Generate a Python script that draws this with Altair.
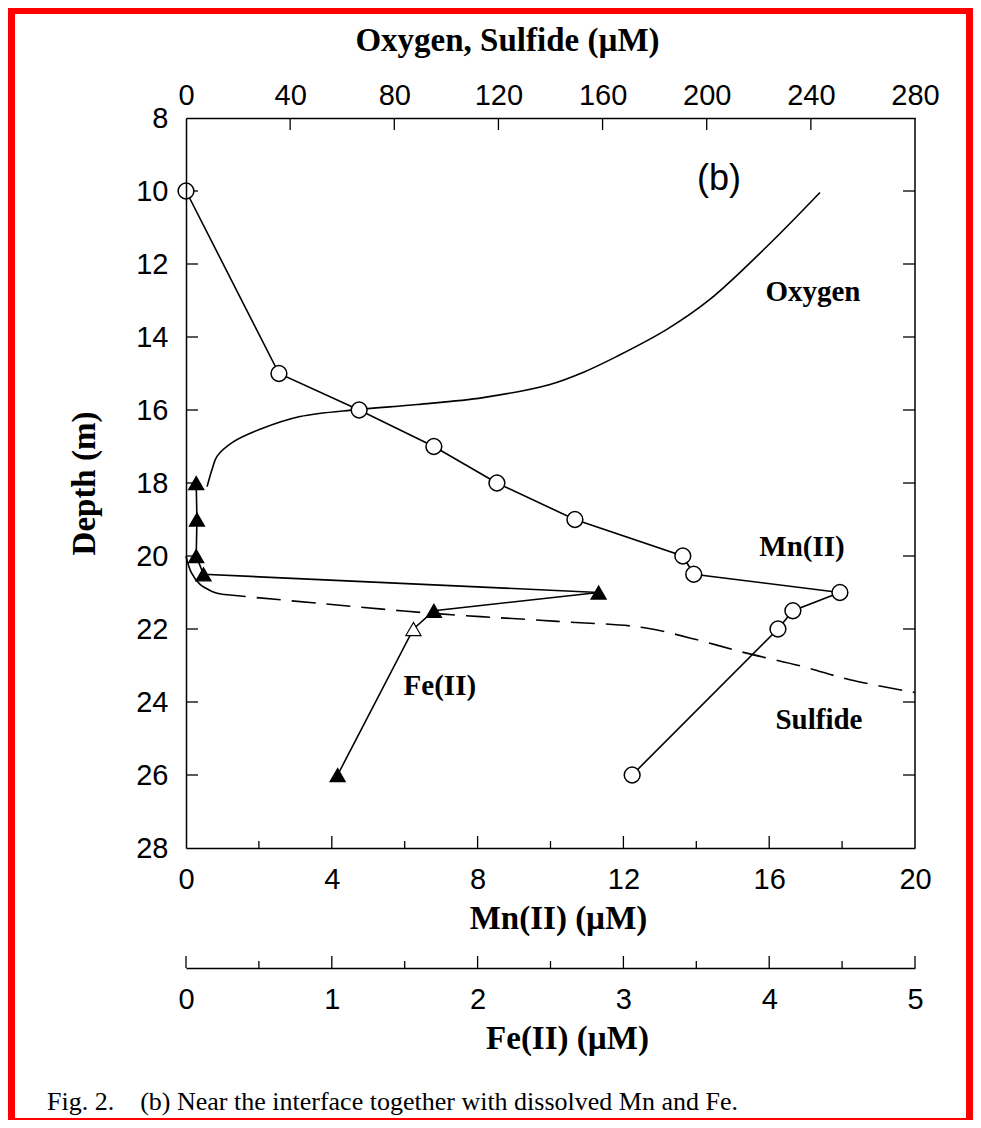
import altair as alt
import pandas as pd

# ---------------- data ----------------
mn_um = [0.0, 2.55, 4.75, 6.8, 8.53, 10.67, 13.63, 13.93, 17.94, 16.65, 16.24, 12.24]
mn_depth = [10, 15, 16, 17, 18, 19, 20, 20.5, 21, 21.5, 22, 26]

fe_um = [0.07, 0.075, 0.07, 0.12, 2.83, 1.70, 1.56, 1.04]
fe_depth = [18, 19, 20, 20.5, 21, 21.5, 22, 26]
fe_open = [False, False, False, False, False, False, True, False]

oxy_um = [243.5, 223.1, 201.2, 184.7, 165.5, 152.5, 139.8, 114.1, 88.7, 65.7,
          43.8, 28.4, 18.0, 11.9, 10.0, 8.1]
oxy_depth = [10.04, 11.52, 12.97, 13.79, 14.53, 14.97, 15.30, 15.66, 15.85, 15.99,
             16.18, 16.53, 16.88, 17.27, 17.63, 18.10]

sulfide_um = [0.0, 2.0, 5.4, 10.0, 13.8, 51.5, 96.4, 142.5, 175.5, 196.0, 213.0,
              237.0, 255.0, 280.0]
sulfide_depth = [20.0, 20.45, 20.78, 20.97, 21.05, 21.30, 21.58, 21.79, 21.96,
                 22.29, 22.62, 23.03, 23.39, 23.74]
sulfide_solid_n = 5  # first points drawn solid

depth_ticks = [8, 10, 12, 14, 16, 18, 20, 22, 24, 26, 28]
oxy_ticks = [0, 40, 80, 120, 160, 200, 240, 280]
mn_ticks = [0, 4, 8, 12, 16, 20]
mn_minor = [2, 6, 10, 14, 18]
fe_ticks = [0, 1, 2, 3, 4, 5]
fe_minor = [0.5, 1.5, 2.5, 3.5, 4.5]

species_labels = ["Oxygen", "Mn(II)", "Fe(II)", "Sulfide"]
species_x = [240.8, 236.6, 97.5, 243.1]      # on the oxygen/sulfide scale
species_depth = [12.78, 19.74, 23.55, 24.48]
panel_label = ["(b)"]
panel_x = [204.7]
panel_depth = [9.68]

caption = "Fig. 2.\u00a0\u00a0\u00a0\u00a0(b) Near the interface together with dissolved Mn and Fe."

# ---------------- layout ----------------
W, H = 729, 730
FE_OFF = 120
SANS = "Liberation Sans, Arial, Helvetica, sans-serif"
NARROW = "Liberation Sans Narrow, Arial Narrow, Liberation Sans, sans-serif"
SERIF = "Liberation Serif, Times New Roman, serif"
LW = 1.6
LBL = 29
TTL = 33

yscale = alt.Scale(domain=[8, 28], reverse=True, nice=False, zero=False)
oxy_scale = alt.Scale(domain=[0, 280], nice=False, zero=False)
mn_scale = alt.Scale(domain=[0, 20], nice=False, zero=False)
fe_scale = alt.Scale(domain=[0, 5], nice=False, zero=False)

y_axis = alt.Axis(orient="left", values=depth_ticks, ticks=False, domain=True,
                  title="Depth (m)", titleFont=SERIF, titleFontWeight="bold",
                  titleFontSize=TTL, titlePadding=34, labelFont=NARROW,
                  labelFontSize=LBL, labelPadding=18, labelFlush=False,
                  grid=False, zindex=1, format="d")
oxy_axis = alt.Axis(orient="top", values=oxy_ticks, ticks=False, domain=True,
                    title="Oxygen, Sulfide (\u00b5M)", titleFont=SERIF,
                    titleFontWeight="bold", titleFontSize=TTL, titlePadding=24,
                    titleX=321, titleAlign="center", labelFlush=False,
                    labelFont=NARROW, labelFontSize=LBL, labelPadding=8, grid=False,
                    zindex=1, format="d")
mn_axis = alt.Axis(orient="bottom", values=mn_ticks, ticks=False, domain=True,
                   title="Mn(II) (\u00b5M)", titleFont=SERIF, titleFontWeight="bold",
                   titleFontSize=TTL, titlePadding=8, titleX=372, titleAlign="center",
                   labelFlush=False, labelFont=NARROW, labelFontSize=LBL,
                   labelPadding=17, grid=False, zindex=1, format="d")
fe_axis = alt.Axis(orient="bottom", offset=FE_OFF, values=fe_ticks, ticks=False,
                   domain=True, title="Fe(II) (\u00b5M)", titleFont=SERIF,
                   titleFontWeight="bold", titleFontSize=TTL, titlePadding=8,
                   titleX=381, titleAlign="center", labelFlush=False,
                   labelFont=NARROW, labelFontSize=LBL, labelPadding=17, grid=False,
                   zindex=1, format="d")

Y = alt.Y("depth:Q", scale=yscale, axis=y_axis)
X_OXY = alt.X("x:Q", scale=oxy_scale, axis=oxy_axis)
X_MN = alt.X("x:Q", scale=mn_scale, axis=mn_axis)
X_FE = alt.X("x:Q", scale=fe_scale, axis=fe_axis)

# ---------------- frames ----------------
one = pd.DataFrame({"a": [0]})
paper = alt.Chart(one).mark_rect(color="white").encode(
    x=alt.value(-171), x2=alt.value(780), y=alt.value(-104), y2=alt.value(1000))
right_frame = alt.Chart(one).mark_rule(color="black", strokeWidth=1.5).encode(
    x=alt.value(W), y=alt.value(0), y2=alt.value(H))
cap = alt.Chart(one).mark_text(font=SERIF, fontSize=26, align="left",
                               baseline="middle", color="black").encode(
    x=alt.value(-139), y=alt.value(984), text=alt.value(caption))

depth_df = pd.DataFrame({"depth": depth_ticks[1:-1]})
left_ticks = alt.Chart(depth_df).mark_rule(color="black", strokeWidth=1.3).encode(
    y=Y, x=alt.value(0), x2=alt.value(12))
right_ticks = alt.Chart(depth_df).mark_rule(color="black", strokeWidth=1.3).encode(
    y=Y, x=alt.value(W - 12), x2=alt.value(W))

# ---------------- oxygen / sulfide group ----------------
oxy_df = pd.DataFrame({"x": oxy_um, "depth": oxy_depth, "i": range(len(oxy_um))})
sul_df = pd.DataFrame({"x": sulfide_um, "depth": sulfide_depth,
                       "i": range(len(sulfide_um))})
oxy_line = alt.Chart(oxy_df).mark_line(color="black", strokeWidth=LW,
                                       interpolate="catmull-rom").encode(
    x=X_OXY, y=Y, order="i:Q")
sul_solid = alt.Chart(sul_df.iloc[:sulfide_solid_n]).mark_line(
    color="black", strokeWidth=LW, interpolate="catmull-rom").encode(
    x=X_OXY, y=Y, order="i:Q")
sul_dash = alt.Chart(sul_df.iloc[sulfide_solid_n - 1:]).mark_line(
    color="black", strokeWidth=LW, strokeDash=[24, 11],
    interpolate="catmull-rom").encode(x=X_OXY, y=Y, order="i:Q")
top_ticks = alt.Chart(pd.DataFrame({"x": oxy_ticks[1:-1]})).mark_rule(
    color="black", strokeWidth=1.3).encode(x=X_OXY, y=alt.value(0), y2=alt.value(12))
spec_text = alt.Chart(pd.DataFrame({"x": species_x, "depth": species_depth,
                                    "t": species_labels})).mark_text(
    font=SERIF, fontWeight="bold", fontSize=29, color="black").encode(
    x=X_OXY, y=Y, text="t:N")
panel_text = alt.Chart(pd.DataFrame({"x": panel_x, "depth": panel_depth,
                                     "t": panel_label})).mark_text(
    font=SANS, fontSize=36, color="black").encode(x=X_OXY, y=Y, text="t:N")

oxy_group = alt.layer(paper, oxy_line, sul_solid, sul_dash, top_ticks, left_ticks,
                      right_ticks, right_frame, spec_text, panel_text, cap)

# ---------------- Mn group ----------------
mn_df = pd.DataFrame({"x": mn_um, "depth": mn_depth, "i": range(len(mn_um))})
mn_line = alt.Chart(mn_df).mark_line(color="black", strokeWidth=LW).encode(
    x=X_MN, y=Y, order="i:Q")
mn_pts = alt.Chart(mn_df).mark_point(shape="circle", size=250, filled=True,
                                     fill="white", stroke="black", strokeWidth=1.5,
                                     opacity=1).encode(x=X_MN, y=Y)
mn_major = alt.Chart(pd.DataFrame({"x": mn_ticks[1:-1]})).mark_rule(
    color="black", strokeWidth=1.3).encode(x=X_MN, y=alt.value(H), y2=alt.value(H - 12))
mn_min = alt.Chart(pd.DataFrame({"x": mn_minor})).mark_rule(
    color="black", strokeWidth=1.3).encode(x=X_MN, y=alt.value(H), y2=alt.value(H - 7))
mn_group = alt.layer(mn_line, mn_pts, mn_major, mn_min)

# ---------------- Fe group ----------------
fe_df = pd.DataFrame({"x": fe_um, "depth": fe_depth, "open": fe_open,
                      "i": range(len(fe_um))})
fe_line = alt.Chart(fe_df).mark_line(color="black", strokeWidth=LW).encode(
    x=X_FE, y=Y, order="i:Q")
fe_pts = alt.Chart(fe_df).mark_point(shape="triangle-up", size=230, filled=True,
                                     stroke="black", strokeWidth=1.2,
                                     opacity=1).encode(
    x=X_FE, y=Y,
    fill=alt.condition("datum.open", alt.value("white"), alt.value("black")))
fe_major = alt.Chart(pd.DataFrame({"x": fe_ticks})).mark_rule(
    color="black", strokeWidth=1.3).encode(
    x=X_FE, y=alt.value(H + FE_OFF), y2=alt.value(H + FE_OFF - 12))
fe_min = alt.Chart(pd.DataFrame({"x": fe_minor})).mark_rule(
    color="black", strokeWidth=1.3).encode(
    x=X_FE, y=alt.value(H + FE_OFF), y2=alt.value(H + FE_OFF - 7))
fe_group = alt.layer(fe_line, fe_pts, fe_major, fe_min)

chart = alt.layer(oxy_group, mn_group, fe_group).resolve_scale(
    x="independent").properties(
    width=W, height=H,
    padding={"left": 178, "top": 110, "right": 58, "bottom": 272},
    autosize=alt.AutoSizeParams(type="none"),
    background="#ff0000",
).configure_view(stroke=None).configure_axis(
    domainColor="black", domainWidth=1.5, labelColor="black", titleColor="black")

chart.save("out.html", embed_options={"renderer": "svg", "actions": False})
